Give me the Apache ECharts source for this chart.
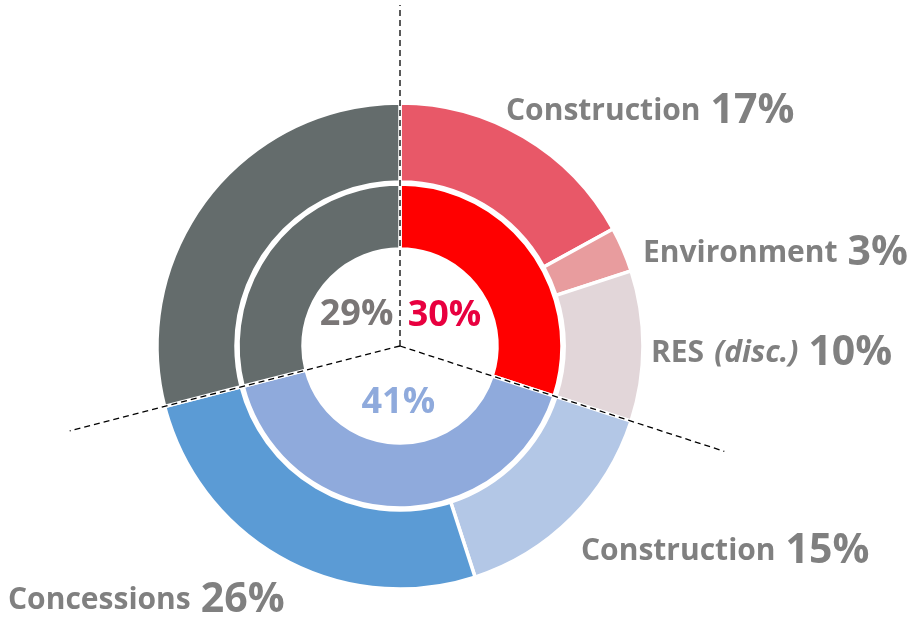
<!DOCTYPE html>
<html>
<head>
<meta charset="utf-8">
<script src="https://cdn.jsdelivr.net/npm/echarts@6/dist/echarts.min.js"></script>
<style>
  html, body { margin: 0; padding: 0; background: #fff; }
  #chart { width: 910px; height: 620px; }
</style>
</head>
<body>
<div id="chart"></div>
<script>
// inner ring: business areas
const innerValues = [30, 41, 29];
const innerColors = ['#ff0000', '#8faadc', '#646c6c'];
const innerTextColors = ['#e8003f', '#8faadc', '#7a7676'];

// outer ring: segments
const outerNames = ['Construction', 'Environment', 'RES (disc.)', 'Construction', 'Concessions', ''];
const outerValues = [17, 3, 10, 15, 26, 29];
const outerColors = ['#e85868', '#e89c9e', '#e2d6d9', '#b3c7e6', '#5b9bd5', '#646c6c'];

// where the outer labels sit (left edge, middle)
const labelSpots = [[506, 111], [643, 253], [651, 353], [581, 551], [8, 600]];

const cx = 400, cy = 346;
const font = '"Open Sans", "Noto Sans", sans-serif';

const chart = echarts.init(document.getElementById('chart'));

// mid angle (radians, clockwise from top) of each inner slice
const innerTotal = innerValues.reduce((a, b) => a + b, 0);
let acc = 0;
const innerMid = [];
const splitAngles = [];
innerValues.forEach(v => {
    splitAngles.push(acc / innerTotal * Math.PI * 2);
    innerMid.push((acc + v / 2) / innerTotal * Math.PI * 2);
    acc += v;
});

// dashed separators from centre along the inner slice edges
const dashLen = 341;
const dashes = splitAngles.map(a => ({
    type: 'line',
    z: 100,
    shape: { x1: cx, y1: cy, x2: cx + Math.sin(a) * dashLen, y2: cy - Math.cos(a) * dashLen },
    style: { stroke: '#000', lineWidth: 1.3, lineDash: [6, 4] }
}));

function outerLabel(p) {
    let name = p.name;
    let m = name.match(/^(.*) \((.*)\)$/);
    if (m) {
        return '{n|' + m[1] + '}{i|(' + m[2] + ')}{p|' + p.value + '%}';
    }
    return '{n|' + name + '}{p|' + p.value + '%}';
}

chart.setOption({
    backgroundColor: '#fff',
    animation: false,
    graphic: dashes,
    series: [{
        type: 'pie',
        center: [cx, cy],
        radius: [97, 162],
        startAngle: 90,
        clockwise: true,
        silent: true,
        itemStyle: { borderColor: '#fff', borderWidth: 3.5 },
        labelLine: { show: false },
        label: {
            show: true,
            position: 'outside',
            overflow: 'none',
            fontFamily: font,
            fontWeight: 'bold',
            fontSize: 36,
            formatter: p => p.value + '%'
        },
        labelLayout: p => ({
            x: cx + Math.sin(innerMid[p.dataIndex]) * 55,
            y: cy - Math.cos(innerMid[p.dataIndex]) * 55 + 2,
            align: 'center',
            verticalAlign: 'middle'
        }),
        data: innerValues.map((v, i) => ({
            value: v,
            itemStyle: { color: innerColors[i] },
            label: { color: innerTextColors[i] }
        }))
    }, {
        type: 'pie',
        center: [cx, cy],
        radius: [164, 243],
        startAngle: 90,
        clockwise: true,
        silent: true,
        itemStyle: { borderColor: '#fff', borderWidth: 3.5 },
        labelLine: { show: false },
        label: {
            show: true,
            position: 'outside',
            overflow: 'none',
            formatter: outerLabel,
            rich: {
                n: { fontFamily: font, fontWeight: 'bold', fontSize: 30, color: '#808080', padding: [0, 10, 0, 0] },
                i: { fontFamily: font, fontWeight: 'bold', fontStyle: 'italic', fontSize: 30, color: '#808080', padding: [0, 10, 0, 0] },
                p: { fontFamily: font, fontWeight: 'bold', fontSize: 41, color: '#808080' }
            }
        },
        labelLayout: p => {
            const s = labelSpots[p.dataIndex];
            if (!s) return {};
            return { x: s[0], y: s[1], align: 'left', verticalAlign: 'middle' };
        },
        data: outerValues.map((v, i) => ({
            name: outerNames[i],
            value: v,
            itemStyle: { color: outerColors[i] },
            label: { show: i < labelSpots.length }
        }))
    }]
});
</script>
</body>
</html>
